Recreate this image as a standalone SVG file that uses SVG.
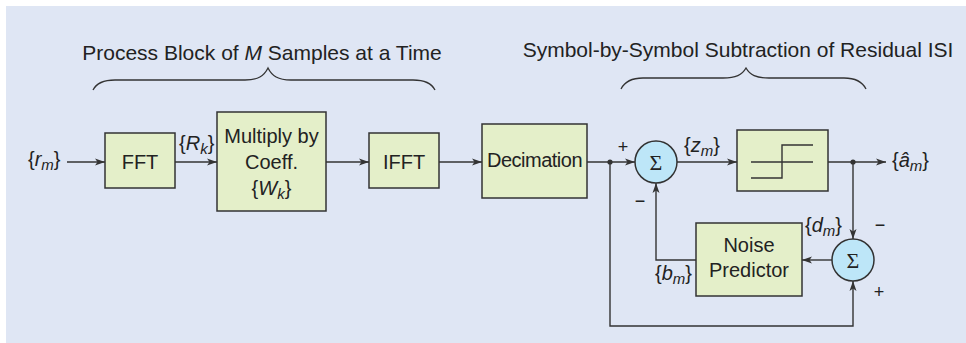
<svg xmlns="http://www.w3.org/2000/svg" width="966" height="343" viewBox="0 0 966 343">
<defs>
<marker id="arr" markerUnits="userSpaceOnUse" markerWidth="10" markerHeight="8" refX="10" refY="4" orient="auto">
<path d="M0,0.5 L10,4 L0,7.5 L2.5,4 Z" fill="#333"/>
</marker>
</defs>
<style>
.box{fill:#e4efc9;stroke:#333;stroke-width:1.5}
.sum{fill:#bde6f8;stroke:#333;stroke-width:1.5}
.ln{fill:none;stroke:#333;stroke-width:1.4}
.ar{fill:none;stroke:#333;stroke-width:1.4;marker-end:url(#arr)}
.br{fill:none;stroke:#333;stroke-width:1.3}
text{font-family:"Liberation Sans",Arial,sans-serif;fill:#222}
.t{font-size:21px}
.b{font-size:20px;text-anchor:middle}
.l{font-size:20px}
.i{font-style:italic}
.s{font-size:15px;font-style:italic}
.sg{font-family:"Liberation Serif","Times New Roman",serif;font-size:22px;text-anchor:middle}
.pm{font-size:18px;text-anchor:middle}
</style>
<rect x="6" y="6" width="960" height="337" fill="#dfe6f4"/>

<g id="titles">
<text class="t" x="262" y="60" text-anchor="middle">Process Block of <tspan class="i">M</tspan> Samples at a Time</text>
<text class="t" x="738" y="57" text-anchor="middle">Symbol-by-Symbol Subtraction of Residual ISI</text>
<path class="br" d="M93,90 C97,82 105,80 115,80 L245,80 C258,80 264,76 268,68 C272,76 278,80 291,80 L413,80 C423,80 431,82 435,90"/>
<path class="br" d="M621,89 C625,81 633,78 643,78 L723,78 C736,78 742,75 746,68 C750,75 756,78 769,78 L844,78 C854,78 862,81 866,89"/>
</g>

<g id="connectors">
<line class="ar" x1="67" y1="162" x2="105" y2="162"/>
<line class="ar" x1="175" y1="162" x2="217" y2="162"/>
<line class="ar" x1="326" y1="162" x2="369" y2="162"/>
<line class="ar" x1="439" y1="162" x2="482" y2="162"/>
<line class="ar" x1="587" y1="162" x2="635" y2="162"/>
<line class="ar" x1="677" y1="162" x2="737" y2="162"/>
<line class="ar" x1="828" y1="162" x2="886" y2="162"/>
<line class="ar" x1="853" y1="162" x2="853" y2="239"/>
<line class="ar" x1="832" y1="260" x2="802" y2="260"/>
<polyline class="ar" points="696,260 656,260 656,183"/>
<polyline class="ar" points="610,162 610,326 853,326 853,281"/>
<circle cx="610" cy="162" r="2.6" fill="#333"/>
<circle cx="853" cy="162" r="2.6" fill="#333"/>
</g>

<g id="fft">
<rect class="box" x="105" y="133" width="70" height="55"/>
<text class="b" x="140" y="169">FFT</text>
</g>
<g id="multiply">
<rect class="box" x="217" y="112" width="109" height="99"/>
<text class="b" x="271.5" y="143">Multiply by</text>
<text class="b" x="271.5" y="169">Coeff.</text>
<text class="b" x="271.5" y="195">{<tspan class="i">W</tspan><tspan class="s" dy="4">k</tspan><tspan dy="-4">}</tspan></text>
</g>
<g id="ifft">
<rect class="box" x="369" y="133" width="70" height="55"/>
<text class="b" x="404" y="169">IFFT</text>
</g>
<g id="decimation">
<rect class="box" x="482" y="124" width="105" height="74"/>
<text class="b" x="534.5" y="167" letter-spacing="-0.5">Decimation</text>
</g>
<g id="sum1">
<circle class="sum" cx="656" cy="162" r="21"/>
<text class="sg" x="656" y="170">Σ</text>
</g>
<g id="quantizer">
<rect class="box" x="737" y="130" width="91" height="61"/>
<line class="ln" x1="751" y1="162" x2="813" y2="162"/>
<polyline class="ln" points="751,178 782,178 782,145 813,145"/>
</g>
<g id="sum2">
<circle class="sum" cx="853" cy="260" r="21"/>
<text class="sg" x="853" y="268">Σ</text>
</g>
<g id="noise-predictor">
<rect class="box" x="696" y="223" width="106" height="73"/>
<text class="b" x="749" y="252">Noise</text>
<text class="b" x="749" y="277">Predictor</text>
</g>

<g id="labels">
<text class="l" x="28" y="166">{<tspan class="i">r</tspan><tspan class="s" dy="4">m</tspan><tspan dy="-4">}</tspan></text>
<text class="l" x="179" y="150">{<tspan class="i">R</tspan><tspan class="s" dy="4">k</tspan><tspan dy="-4">}</tspan></text>
<text class="l" x="684" y="152">{<tspan class="i">z</tspan><tspan class="s" dy="4">m</tspan><tspan dy="-4">}</tspan></text>
<text class="l" x="892" y="167">{<tspan class="i">â</tspan><tspan class="s" dy="4">m</tspan><tspan dy="-4">}</tspan></text>
<text class="l" x="805" y="232">{<tspan class="i">d</tspan><tspan class="s" dy="4">m</tspan><tspan dy="-4">}</tspan></text>
<text class="l" x="655" y="280">{<tspan class="i">b</tspan><tspan class="s" dy="4">m</tspan><tspan dy="-4">}</tspan></text>
<text class="pm" x="623" y="153">+</text>
<text class="pm" x="640" y="207">−</text>
<text class="pm" x="880" y="231">−</text>
<text class="pm" x="879" y="298">+</text>
</g>
</svg>
